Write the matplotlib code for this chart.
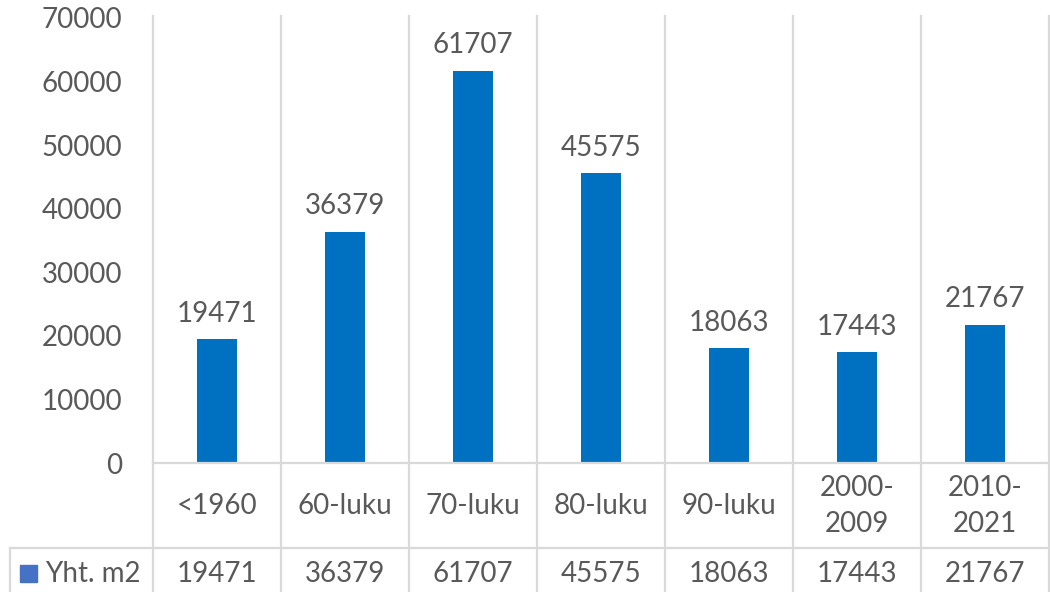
import matplotlib.pyplot as plt
from matplotlib.patches import Rectangle

categories = ["<1960", "60-luku", "70-luku", "80-luku", "90-luku", "2000-\n2009", "2010-\n2021"]
values = [19471, 36379, 61707, 45575, 18063, 17443, 21767]
series_name = "Yht. m2"
yticks = [0, 10000, 20000, 30000, 40000, 50000, 60000, 70000]

bar_color = "#0070C0"
legend_color = "#4472C4"
text_color = "#595959"
grid_color = "#D9D9D9"

plt.rcParams['font.family'] = ['Lato', 'DejaVu Sans']
fs = 20

W, H = 1050, 592
fig = plt.figure(figsize=(W / 100, H / 100), dpi=100)
x0, x1, ytop, ybot = 153, 1049, 18, 463
ax = fig.add_axes([x0 / W, 1 - ybot / H, (x1 - x0) / W, (ybot - ytop) / H])

n = len(categories)
xs = list(range(n))
ax.bar(xs, values, width=0.32, color=bar_color, zorder=3)
ax.set_xlim(-0.5, n - 0.5)
ax.set_ylim(0, 70000)

for s in ax.spines.values():
    s.set_visible(False)
ax.set_xticks([])
ax.set_yticks(yticks)
ax.set_yticklabels([str(v) for v in yticks], fontsize=fs, color=text_color)
ax.tick_params(axis='y', length=0, pad=22)

# pixel -> axes fraction helper for y
def fy(py):
    return (ybot - py) / (ybot - ytop)

tr = ax.get_xaxis_transform()
lw = 1.6

# vertical grid / table lines
for i in range(n + 1):
    ax.plot([i - 0.5, i - 0.5], [fy(H + 2), fy(16)], transform=tr,
            color=grid_color, lw=lw, clip_on=False, zorder=1)
# axis line and table row line
ax.plot([-0.5, n - 0.5], [0, 0], transform=tr, color=grid_color, lw=lw, clip_on=False, zorder=4)
unit = (x1 - x0) / n
leg_left = -0.5 - (x0 - 10) / unit
ax.plot([leg_left, n - 0.5], [fy(548), fy(548)], transform=tr, color=grid_color, lw=lw, clip_on=False)
ax.plot([leg_left, leg_left], [fy(548), fy(H + 2)], transform=tr, color=grid_color, lw=lw, clip_on=False)

# value labels above bars
for x, v in zip(xs, values):
    ax.annotate(str(v), (x, v), xytext=(0, 9), textcoords='offset points',
                ha='center', va='bottom', fontsize=fs, color=text_color)

# category row
for x, c in zip(xs, categories):
    ax.text(x, fy(506), c, transform=tr, ha='center', va='center', fontsize=fs,
            color=text_color, linespacing=1.45)

# data row
for x, v in zip(xs, values):
    ax.text(x, fy(574), str(v), transform=tr, ha='center', va='center', fontsize=fs,
            color=text_color)

# legend key in table
sq = Rectangle((20 / W, 1 - 582 / H), 17 / W, 17 / H, transform=fig.transFigure,
               color=legend_color, clip_on=False)
fig.patches.append(sq)
fig.text(45 / W, 1 - 574 / H, series_name, ha='left', va='center', fontsize=fs, color=text_color)

fig.savefig("out.png", dpi=100)
